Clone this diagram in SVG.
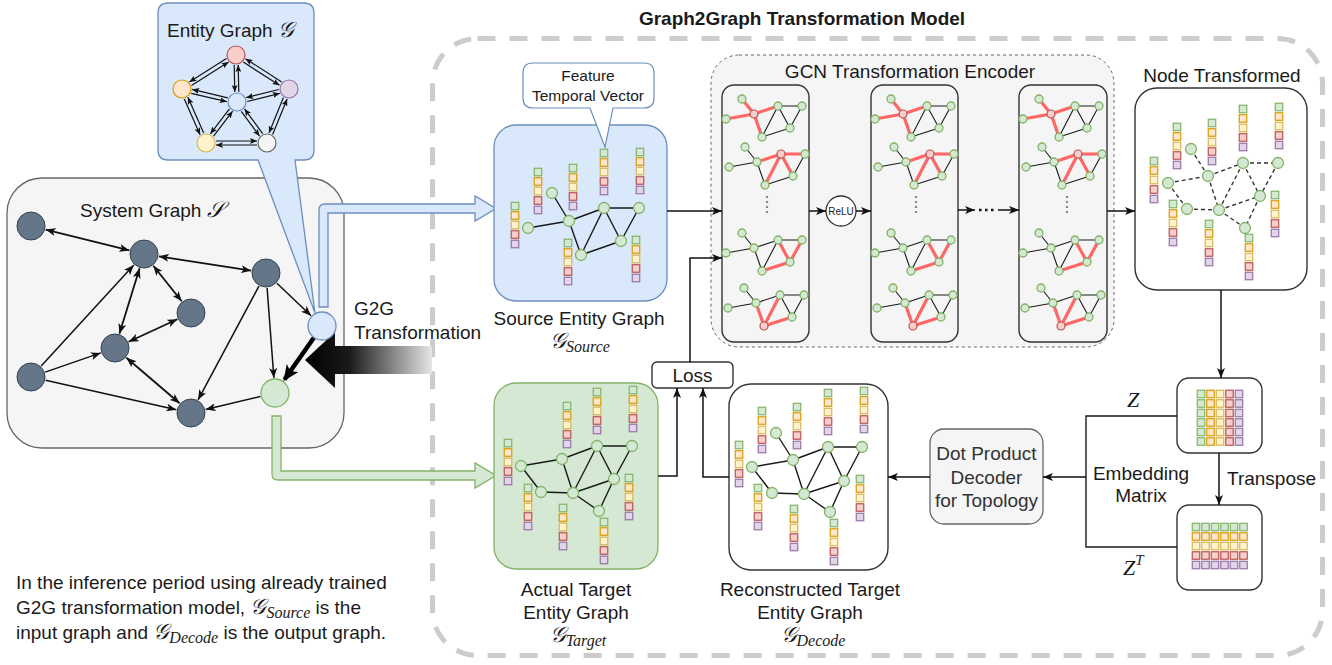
<svg xmlns="http://www.w3.org/2000/svg" xmlns:xlink="http://www.w3.org/1999/xlink" width="1332" height="665" viewBox="0 0 1332 665">
<style>
.t{font-family:"Liberation Sans",Arial,sans-serif;font-size:19px;fill:#1a1a1a}
.t15{font-family:"Liberation Sans",Arial,sans-serif;font-size:15.5px;fill:#1a1a1a}
.t10{font-family:"Liberation Sans",Arial,sans-serif;font-size:10px;fill:#1a1a1a}
.cal{font-family:"DejaVu Serif","Liberation Serif",serif;font-size:22px;font-style:italic}
.sub{font-family:"Liberation Serif","DejaVu Serif",serif;font-size:16px;font-style:italic}
.mz{font-family:"Liberation Serif","DejaVu Serif",serif;font-size:22px;font-style:italic;fill:#1a1a1a}
.e{stroke:#1a1a1a;stroke-width:1.4;fill:none}
.ed{stroke:#333;stroke-width:1.4;fill:none;stroke-dasharray:4 3}
.a{stroke:#111;stroke-width:1.5;fill:none;marker-end:url(#arr)}
.ab{stroke:#111;stroke-width:1.8;fill:none;marker-start:url(#arr);marker-end:url(#arr)}
.as{stroke:#111;stroke-width:1.2;fill:none;marker-end:url(#arrs)}
.gn{fill:#d5e8d4;stroke:#82b366;stroke-width:1.3}
.sn{fill:#647687;stroke:#314354;stroke-width:1}
.rl{stroke:#ff6666;stroke-width:3.2;fill:none;stroke-linecap:round}
.bl{stroke:#1a1a1a;stroke-width:1.1;fill:none}
.box{fill:#fff;stroke:#333;stroke-width:1.4}
</style>
<defs>
<marker id="arr" markerUnits="userSpaceOnUse" markerWidth="10" markerHeight="8" refX="10" refY="4" orient="auto-start-reverse"><path d="M0,0 L10,4 L0,8 L2.5,4 z" fill="#111"/></marker>
<marker id="arrs" markerUnits="userSpaceOnUse" markerWidth="7" markerHeight="6" refX="7" refY="3" orient="auto"><path d="M0,0 L7,3 L0,6 L1.5,3 z" fill="#111"/></marker>
<marker id="arrt" markerUnits="userSpaceOnUse" markerWidth="16" markerHeight="14" refX="14" refY="7" orient="auto"><path d="M0,0 L16,7 L0,14 L4,7 z" fill="#000"/></marker>
<linearGradient id="gg" x1="0" y1="0" x2="1" y2="0"><stop offset="0" stop-color="#000"/><stop offset="0.35" stop-color="#1a1a1a"/><stop offset="1" stop-color="#e6e6e6"/></linearGradient>
<g id="stk" stroke-width="1.2">
<rect x="-3.75" y="-3.75" width="7.5" height="7.5" fill="#d5e8d4" stroke="#82b366"/>
<rect x="-3.75" y="5.75" width="7.5" height="7.5" fill="#ffe6cc" stroke="#d79b00"/>
<rect x="-3.75" y="15.25" width="7.5" height="7.5" fill="#fff2cc" stroke="#d6b656"/>
<rect x="-3.75" y="24.75" width="7.5" height="7.5" fill="#f8cecc" stroke="#b85450"/>
<rect x="-3.75" y="34.25" width="7.5" height="7.5" fill="#e1d5e7" stroke="#9673a6"/>
</g>
<g id="col6" stroke-width="1.2">
<rect x="-3.75" y="-3.75" width="7.5" height="7.5"/><rect x="-3.75" y="5.75" width="7.5" height="7.5"/><rect x="-3.75" y="15.25" width="7.5" height="7.5"/><rect x="-3.75" y="24.75" width="7.5" height="7.5"/><rect x="-3.75" y="34.25" width="7.5" height="7.5"/><rect x="-3.75" y="43.75" width="7.5" height="7.5"/>
</g>
<g id="row6" stroke-width="1.2">
<rect x="-3.75" y="-3.75" width="7.5" height="7.5"/><rect x="5.75" y="-3.75" width="7.5" height="7.5"/><rect x="15.25" y="-3.75" width="7.5" height="7.5"/><rect x="24.75" y="-3.75" width="7.5" height="7.5"/><rect x="34.25" y="-3.75" width="7.5" height="7.5"/><rect x="43.75" y="-3.75" width="7.5" height="7.5"/>
</g>
<g id="mg1">
<path class="rl" d="M0,0 L28,-5 M16,-20 L28,-5 M28,-5 L52,-13 M28,-5 L36,18"/>
<path class="bl" d="M52,-13 L76,-13 M52,-13 L36,18 M52,-13 L64,9 M76,-13 L64,9 M36,18 L64,9"/>
<circle class="gn" cx="0" cy="0" r="4"/><circle class="gn" cx="16" cy="-20" r="4"/><circle cx="28" cy="-5" r="4" fill="#f8cecc" stroke="#b85450" stroke-width="1.2"/><circle class="gn" cx="52" cy="-13" r="4"/><circle class="gn" cx="76" cy="-13" r="4"/><circle class="gn" cx="64" cy="9" r="4"/><circle class="gn" cx="36" cy="18" r="4"/>
</g>
<g id="mg2">
<path class="rl" d="M28,-5 L52,-13 M52,-13 L76,-13 M52,-13 L36,18 M52,-13 L64,9"/>
<path class="bl" d="M0,0 L28,-5 M16,-20 L28,-5 M76,-13 L64,9 M28,-5 L36,18 M36,18 L64,9"/>
<circle class="gn" cx="0" cy="0" r="4"/><circle class="gn" cx="16" cy="-20" r="4"/><circle class="gn" cx="28" cy="-5" r="4"/><circle cx="52" cy="-13" r="4" fill="#f8cecc" stroke="#b85450" stroke-width="1.2"/><circle class="gn" cx="76" cy="-13" r="4"/><circle class="gn" cx="64" cy="9" r="4"/><circle class="gn" cx="36" cy="18" r="4"/>
</g>
<g id="mg3">
<path class="rl" d="M52,-13 L64,9 M76,-13 L64,9 M36,18 L64,9"/>
<path class="bl" d="M0,0 L28,-5 M16,-20 L28,-5 M28,-5 L52,-13 M52,-13 L76,-13 M52,-13 L36,18 M28,-5 L36,18"/>
<circle class="gn" cx="0" cy="0" r="4"/><circle class="gn" cx="16" cy="-20" r="4"/><circle class="gn" cx="28" cy="-5" r="4"/><circle class="gn" cx="52" cy="-13" r="4"/><circle class="gn" cx="76" cy="-13" r="4"/><circle class="gn" cx="64" cy="9" r="4"/><circle class="gn" cx="36" cy="18" r="4"/>
</g>
<g id="mg4">
<path class="rl" d="M28,-5 L36,18 M52,-13 L36,18 M36,18 L64,9"/>
<path class="bl" d="M0,0 L28,-5 M16,-20 L28,-5 M28,-5 L52,-13 M52,-13 L76,-13 M52,-13 L64,9 M76,-13 L64,9"/>
<circle class="gn" cx="0" cy="0" r="4"/><circle class="gn" cx="16" cy="-20" r="4"/><circle class="gn" cx="28" cy="-5" r="4"/><circle class="gn" cx="52" cy="-13" r="4"/><circle class="gn" cx="76" cy="-13" r="4"/><circle class="gn" cx="64" cy="9" r="4"/><circle cx="36" cy="18" r="4" fill="#f8cecc" stroke="#b85450" stroke-width="1.2"/>
</g>
</defs>

<rect width="1332" height="665" fill="#fff"/>

<g id="model-frame">
<rect x="432.5" y="38.5" width="890" height="617" rx="45" fill="none" stroke="#cccccc" stroke-width="5" stroke-dasharray="18 14"/>
<text class="t" x="802" y="25" text-anchor="middle" font-weight="bold">Graph2Graph Transformation Model</text>
</g>

<g id="system-graph">
<rect x="7" y="178" width="337" height="270" rx="35" fill="#f5f5f5" stroke="#666" stroke-width="1.3"/>
<text class="t" x="80" y="217">System Graph <tspan class="cal">𝒮</tspan></text>
<g id="sys-edges">
<path class="ab" d="M45.6,229.6 L129.4,250.4"/>
<path class="ab" d="M158.8,256.3 L251.2,270.7"/>
<path class="ab" d="M153.3,265.7 L181.7,301.3"/>
<path class="ab" d="M139.6,268.3 L119.4,333.7"/>
<path class="ab" d="M177.4,319.3 L128.6,341.7"/>
<path class="a" d="M41.2,366 L133.8,265.1"/>
<path class="a" d="M45.2,372.1 L100.8,352.9"/>
<path class="a" d="M45.6,380.3 L176.4,409.7"/>
<path class="ab" d="M126.4,357.8 L179.6,403.3"/>
<path class="a" d="M258.9,286.2 L198.1,399.8"/>
<path class="a" d="M267.1,288 L273.9,378"/>
<path class="a" d="M276.9,283.3 L311.1,315.7"/>
<path class="a" d="M260.4,396.5 L205.6,409.5"/>
<path d="M314,337.5 L284.5,379.5" stroke="#000" stroke-width="4.5" fill="none" marker-end="url(#arrt)"/>
</g>
<circle class="sn" cx="31" cy="226" r="14"/>
<circle class="sn" cx="144" cy="254" r="14"/>
<circle class="sn" cx="266" cy="273" r="14"/>
<circle class="sn" cx="191" cy="313" r="14"/>
<circle class="sn" cx="115" cy="348" r="14"/>
<circle class="sn" cx="31" cy="377" r="14"/>
<circle class="sn" cx="191" cy="413" r="14"/>
</g>

<g id="entity-graph">
<path d="M168,3 H304 Q314,3 314,13 V150 Q314,160 304,160 H295 L315,313 L258,160 H168 Q158,160 158,150 V13 Q158,3 168,3 Z" fill="#dae8fc" stroke="#6c8ebf" stroke-width="1.3"/>
<text class="t" x="167" y="37">Entity Graph <tspan class="cal">𝒢</tspan></text>
<g id="entity-edges">
<path class="as" d="M226.4,58.6 L189.4,82.0"/><path class="as" d="M191.5,85.4 L228.6,62.0"/>
<path class="as" d="M234.2,65 L234.8,92"/><path class="as" d="M238.8,92 L238.2,65"/>
<path class="as" d="M243.3,62.1 L279.5,85.3"/><path class="as" d="M281.7,81.9 L245.5,58.7"/>
<path class="as" d="M191.2,93.3 L226.8,101.7"/><path class="as" d="M227.8,97.8 L192.2,89.4"/>
<path class="as" d="M278.8,89.5 L246.2,97.7"/><path class="as" d="M247.2,101.5 L279.8,93.3"/>
<path class="as" d="M184.3,98.9 L200.1,134.7"/><path class="as" d="M203.7,133.1 L187.9,97.3"/>
<path class="as" d="M283.4,97.5 L269.0,133.0"/><path class="as" d="M272.6,134.5 L287.1,99.0"/>
<path class="as" d="M213.6,136.2 L232.6,111.2"/><path class="as" d="M229.4,108.8 L210.4,133.8"/>
<path class="as" d="M262.7,133.7 L244.5,108.9"/><path class="as" d="M241.3,111.3 L259.5,136.1"/>
<path class="as" d="M216,141 L257,141"/><path class="as" d="M257,145 L216,145"/>
</g>
<circle cx="236" cy="55" r="9" fill="#f8cecc" stroke="#b85450" stroke-width="1.2"/>
<circle cx="182" cy="89" r="9" fill="#ffe6cc" stroke="#d79b00" stroke-width="1.2"/>
<circle cx="289" cy="89" r="9" fill="#e1d5e7" stroke="#9673a6" stroke-width="1.2"/>
<circle cx="237" cy="102" r="9" fill="#dae8fc" stroke="#6c8ebf" stroke-width="1.2"/>
<circle cx="206" cy="143" r="9" fill="#fff2cc" stroke="#d6b656" stroke-width="1.2"/>
<circle cx="267" cy="143" r="9" fill="#f5f5f5" stroke="#666" stroke-width="1.2"/>
</g>

<g id="connectors-pipes">
<path d="M319,307 V210 Q319,204 325,204 H475 V196 L496,208.5 L475,221 V213 H328 V307 Z" fill="#dae8fc" stroke="#6c8ebf" stroke-width="1.3"/>
<path d="M272,416 V474 Q272,480 278,480 H475 V488 L496,475.5 L475,463 V471 H281 V416 Z" fill="#d5e8d4" stroke="#82b366" stroke-width="1.3"/>
<path d="M305,360 L335,332 V346 H432 V374 H335 V388 Z" fill="url(#gg)"/>
</g>
<g id="sys-special-nodes">
<circle cx="322" cy="326" r="14" fill="#dae8fc" stroke="#6c8ebf" stroke-width="1.3"/>
<circle cx="275" cy="393" r="14" fill="#d5e8d4" stroke="#82b366" stroke-width="1.3"/>
</g>
<g id="g2g-label">
<text class="t" x="354" y="315">G2G</text>
<text class="t" x="354" y="339">Transformation</text>
</g>

<g id="source-graph">
<rect x="494" y="125" width="173" height="176" rx="22" fill="#dae8fc" stroke="#6c8ebf" stroke-width="1.3"/>
<path class="e" d="M528,228 L569,221 M552,193 L569,221 M569,221 L604,208 M604,208 L639,208 M604,208 L581,255 M604,208 L621,241 M639,208 L621,241 M569,221 L581,255 M581,255 L621,241"/>
<circle class="gn" cx="528" cy="228" r="5.5"/><circle class="gn" cx="552" cy="193" r="5.5"/><circle class="gn" cx="569" cy="221" r="5.5"/><circle class="gn" cx="604" cy="208" r="5.5"/><circle class="gn" cx="639" cy="208" r="5.5"/><circle class="gn" cx="621" cy="241" r="5.5"/><circle class="gn" cx="581" cy="255" r="5.5"/>
<use href="#stk" x="515" y="206"/><use href="#stk" x="538" y="172"/><use href="#stk" x="573" y="168"/><use href="#stk" x="604" y="153"/><use href="#stk" x="640" y="152"/><use href="#stk" x="568" y="243"/><use href="#stk" x="636" y="240"/>
<text class="t" x="579" y="325" text-anchor="middle">Source Entity Graph</text>
<text class="t" x="580" y="348" text-anchor="middle"><tspan class="cal">𝒢</tspan><tspan class="sub" dy="4">Source</tspan></text>
</g>
<g id="feature-callout">
<path d="M533,63 H644 Q654,63 654,73 V98 Q654,108 644,108 H613 L605,147 L590,108 H533 Q523,108 523,98 V73 Q523,63 533,63 Z" fill="#fff" stroke="#6c8ebf" stroke-width="1.2"/>
<text class="t15" x="588" y="81" text-anchor="middle">Feature</text>
<text class="t15" x="588" y="101" text-anchor="middle">Temporal Vector</text>
</g>

<g id="gcn-encoder">
<rect x="711" y="55" width="403" height="292" rx="28" fill="#f5f5f5" stroke="#666" stroke-width="1" stroke-dasharray="3 3"/>
<text class="t" x="910" y="78" text-anchor="middle">GCN Transformation Encoder</text>
</g>
<g id="gcn-layer-1">
<rect x="722" y="85" width="87" height="257" rx="12" fill="#f5f5f5" stroke="#333" stroke-width="1.4"/>
<use href="#mg1" x="726" y="119"/><use href="#mg2" x="729" y="167"/><use href="#mg3" x="726" y="253"/><use href="#mg4" x="728" y="308"/>
<path d="M767,196 V216" stroke="#888" stroke-width="2.2" stroke-dasharray="2 3"/>
</g>
<g id="gcn-layer-2">
<rect x="871" y="85" width="87" height="257" rx="12" fill="#f5f5f5" stroke="#333" stroke-width="1.4"/>
<use href="#mg1" x="875" y="119"/><use href="#mg2" x="878" y="167"/><use href="#mg3" x="875" y="253"/><use href="#mg4" x="877" y="308"/>
<path d="M916,196 V216" stroke="#888" stroke-width="2.2" stroke-dasharray="2 3"/>
</g>
<g id="gcn-layer-n">
<rect x="1019" y="85" width="88" height="257" rx="12" fill="#f5f5f5" stroke="#333" stroke-width="1.4"/>
<use href="#mg1" x="1023" y="119"/><use href="#mg2" x="1026" y="167"/><use href="#mg3" x="1023" y="253"/><use href="#mg4" x="1025" y="308"/>
<path d="M1067,196 V216" stroke="#888" stroke-width="2.2" stroke-dasharray="2 3"/>
</g>
<g id="relu">
<circle cx="841" cy="211" r="15" fill="#fff" stroke="#333" stroke-width="1.3"/>
<text class="t10" x="841" y="214.5" text-anchor="middle">ReLU</text>
</g>

<g id="node-transformed">
<text class="t" x="1222" y="82" text-anchor="middle">Node Transformed</text>
<rect class="box" x="1135" y="88" width="172" height="202" rx="22"/>
<path class="ed" d="M1191,149 L1208,176 M1168,183 L1208,176 M1208,176 L1243,163 M1243,163 L1278,163 M1243,163 L1219,210 M1243,163 L1260,196 M1278,163 L1260,196 M1208,176 L1219,210 M1168,183 L1187,209 M1187,209 L1219,210 M1219,210 L1260,196 M1219,210 L1245,228 M1260,196 L1245,228"/>
<circle class="gn" cx="1191" cy="149" r="5.5"/><circle class="gn" cx="1168" cy="183" r="5.5"/><circle class="gn" cx="1208" cy="176" r="5.5"/><circle class="gn" cx="1243" cy="163" r="5.5"/><circle class="gn" cx="1278" cy="163" r="5.5"/><circle class="gn" cx="1260" cy="196" r="5.5"/><circle class="gn" cx="1187" cy="209" r="5.5"/><circle class="gn" cx="1219" cy="210" r="5.5"/><circle class="gn" cx="1245" cy="228" r="5.5"/>
<use href="#stk" x="1154" y="161"/><use href="#stk" x="1177" y="127"/><use href="#stk" x="1212" y="123"/><use href="#stk" x="1243" y="109"/><use href="#stk" x="1279" y="107"/><use href="#stk" x="1173" y="204"/><use href="#stk" x="1209" y="224"/><use href="#stk" x="1249" y="238"/><use href="#stk" x="1275" y="195"/>
</g>

<g id="z-matrix">
<rect class="box" x="1177" y="378" width="85" height="75" rx="12"/>
<use href="#col6" x="1201" y="394" fill="#d5e8d4" stroke="#82b366"/>
<use href="#col6" x="1210.5" y="394" fill="#ffe6cc" stroke="#d79b00"/>
<use href="#col6" x="1220" y="394" fill="#fff2cc" stroke="#d6b656"/>
<use href="#col6" x="1229.5" y="394" fill="#f8cecc" stroke="#b85450"/>
<use href="#col6" x="1239" y="394" fill="#e1d5e7" stroke="#9673a6"/>
<text class="mz" x="1127" y="407">Z</text>
</g>
<g id="zt-matrix">
<rect class="box" x="1177" y="505" width="85" height="85" rx="12"/>
<use href="#row6" x="1196" y="527" fill="#d5e8d4" stroke="#82b366"/>
<use href="#row6" x="1196" y="536.5" fill="#ffe6cc" stroke="#d79b00"/>
<use href="#row6" x="1196" y="546" fill="#fff2cc" stroke="#d6b656"/>
<use href="#row6" x="1196" y="555.5" fill="#f8cecc" stroke="#b85450"/>
<use href="#row6" x="1196" y="565" fill="#e1d5e7" stroke="#9673a6"/>
<text class="mz" x="1123" y="575">Z<tspan font-size="15px" dy="-10">T</tspan></text>
</g>
<g id="labels-z">
<text class="t" x="1141" y="480" text-anchor="middle">Embedding</text>
<text class="t" x="1141" y="502" text-anchor="middle">Matrix</text>
<text class="t" x="1227" y="485">Transpose</text>
</g>

<g id="decoder">
<rect x="930" y="429" width="113" height="95" rx="14" fill="#f5f5f5" stroke="#666" stroke-width="1.3"/>
<text class="t" x="986.5" y="460" text-anchor="middle" style="fill:#333">Dot Product</text>
<text class="t" x="986.5" y="484" text-anchor="middle" style="fill:#333">Decoder</text>
<text class="t" x="986.5" y="507" text-anchor="middle" style="fill:#333">for Topology</text>
</g>

<g id="actual-target">
<rect x="494" y="383" width="164" height="186" rx="22" fill="#d5e8d4" stroke="#82b366" stroke-width="1.3"/>
<path class="e" d="M521,466 L562,459 M521,466 L541,492 M541,492 L573,493 M562,459 L597,446 M562,459 L573,493 M597,446 L632,446 M597,446 L573,493 M597,446 L614,479 M632,446 L614,479 M573,493 L614,479 M573,493 L599,511 M614,479 L599,511"/>
<circle class="gn" cx="521" cy="466" r="5.5"/><circle class="gn" cx="562" cy="459" r="5.5"/><circle class="gn" cx="597" cy="446" r="5.5"/><circle class="gn" cx="632" cy="446" r="5.5"/><circle class="gn" cx="614" cy="479" r="5.5"/><circle class="gn" cx="541" cy="492" r="5.5"/><circle class="gn" cx="573" cy="493" r="5.5"/><circle class="gn" cx="599" cy="511" r="5.5"/>
<use href="#stk" x="508" y="443"/><use href="#stk" x="528" y="488"/><use href="#stk" x="567" y="406"/><use href="#stk" x="597" y="392"/><use href="#stk" x="633" y="390"/><use href="#stk" x="629" y="478"/><use href="#stk" x="563" y="508"/><use href="#stk" x="604" y="522"/>
<text class="t" x="576" y="596" text-anchor="middle">Actual Target</text>
<text class="t" x="576" y="619" text-anchor="middle">Entity Graph</text>
<text class="t" x="578" y="642" text-anchor="middle"><tspan class="cal">𝒢</tspan><tspan class="sub" dy="4">Target</tspan></text>
</g>

<g id="reconstructed-target">
<rect class="box" x="729" y="384" width="159" height="186" rx="22"/>
<path class="e" d="M752,467 L793,460 M776,433 L793,460 M793,460 L828,447 M828,447 L862,447 M828,447 L804,494 M828,447 L844,481 M862,447 L844,481 M793,460 L804,494 M752,467 L772,493 M772,493 L804,494 M804,494 L844,481 M804,494 L830,512 M844,481 L830,512"/>
<circle class="gn" cx="752" cy="467" r="5.5"/><circle class="gn" cx="776" cy="433" r="5.5"/><circle class="gn" cx="793" cy="460" r="5.5"/><circle class="gn" cx="828" cy="447" r="5.5"/><circle class="gn" cx="862" cy="447" r="5.5"/><circle class="gn" cx="844" cy="481" r="5.5"/><circle class="gn" cx="772" cy="493" r="5.5"/><circle class="gn" cx="804" cy="494" r="5.5"/><circle class="gn" cx="830" cy="512" r="5.5"/>
<use href="#stk" x="739" y="445"/><use href="#stk" x="762" y="411"/><use href="#stk" x="797" y="407"/><use href="#stk" x="828" y="393"/><use href="#stk" x="864" y="391"/><use href="#stk" x="758" y="488"/><use href="#stk" x="794" y="509"/><use href="#stk" x="834" y="523"/><use href="#stk" x="860" y="479"/>
<text class="t" x="810" y="596" text-anchor="middle">Reconstructed Target</text>
<text class="t" x="810" y="619" text-anchor="middle">Entity Graph</text>
<text class="t" x="813" y="642" text-anchor="middle"><tspan class="cal">𝒢</tspan><tspan class="sub" dy="4">Decode</tspan></text>
</g>

<g id="loss">
<rect class="box" x="652" y="362" width="81" height="26" rx="5"/>
<text class="t" x="692.5" y="382" text-anchor="middle">Loss</text>
</g>

<g id="connectors">
<path class="a" d="M667,211 H722"/>
<path class="a" d="M690,362 V258 H722"/>
<path class="a" d="M809,211 H826"/>
<path class="a" d="M856,211 H871"/>
<path class="a" d="M958,210 H975"/>
<path d="M979,210 H997" stroke="#111" stroke-width="2.5" stroke-dasharray="2.5 3.5"/>
<path class="a" d="M998,210 H1019"/>
<path class="a" d="M1107,211 H1135"/>
<path class="a" d="M1221,290 V378"/>
<path class="a" d="M1219,453 V505"/>
<path class="a" d="M658,476 H677 V388"/>
<path class="a" d="M729,477 H703 V388"/>
<path class="a" d="M930,477 H888"/>
<path class="e" d="M1177,416 H1086 V547 H1177"/>
<path class="a" d="M1086,477 H1043"/>
</g>

<g id="note">
<text class="t" x="16" y="589">In the inference period using already trained</text>
<text class="t" x="16" y="614">G2G transformation model, <tspan class="cal">𝒢</tspan><tspan class="sub" dy="4">Source</tspan><tspan dy="-4"> is the</tspan></text>
<text class="t" x="16" y="639">input graph and <tspan class="cal">𝒢</tspan><tspan class="sub" dy="4">Decode</tspan><tspan dy="-4"> is the output graph.</tspan></text>
</g>
</svg>
